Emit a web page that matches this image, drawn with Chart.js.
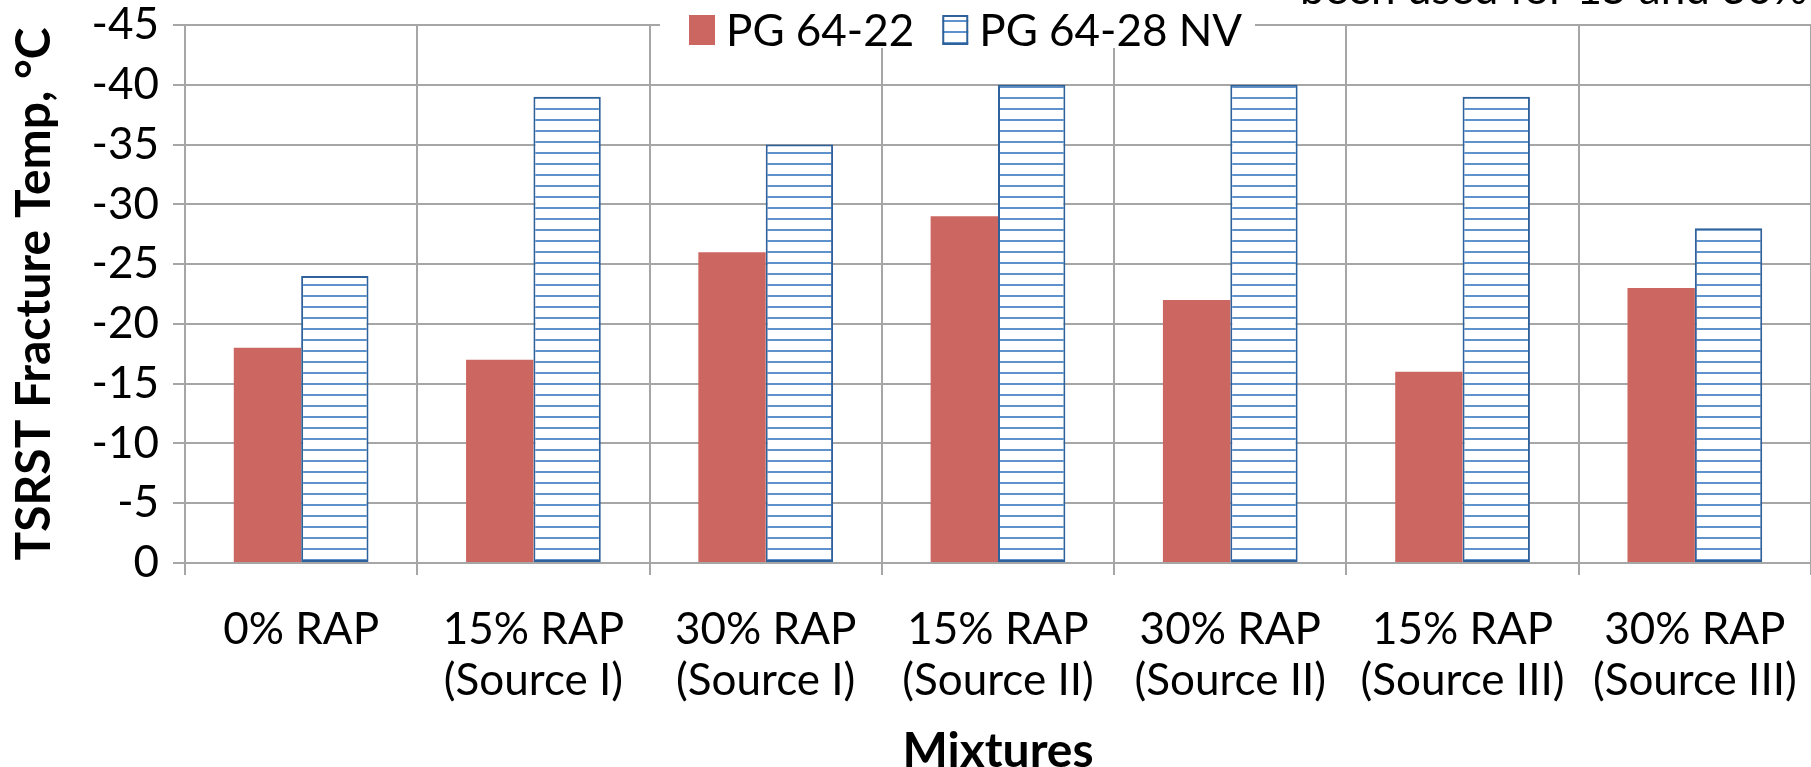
<!DOCTYPE html>
<html>
<head>
<meta charset="utf-8">
<script src="https://cdn.jsdelivr.net/npm/chart.js@4.4.1/dist/chart.umd.min.js"></script>
<style>
  html, body { margin: 0; padding: 0; background: #fff; }
  #wrap { width: 1811px; height: 767px; position: relative; }
</style>
</head>
<body>
<div id="wrap"><canvas id="chart"></canvas></div>
<script>
const categories = [
  ["0% RAP"],
  ["15% RAP", "(Source I)"],
  ["30% RAP", "(Source I)"],
  ["15% RAP", "(Source II)"],
  ["30% RAP", "(Source II)"],
  ["15% RAP", "(Source III)"],
  ["30% RAP", "(Source III)"]
];
const pg6422 = [-18, -17, -26, -29, -22, -16, -23];
const pg6428nv = [-24, -39, -35, -40, -40, -39, -28];
const seriesNames = ["PG 64-22", "PG 64-28 NV"];
const yMin = -45, yMax = 0, yStep = 5;
const noteText = "been used for 15 and 30% RAP";

const RED = "#cc6660";
const BLUE_EDGE = "#2f619b";
const BLUE_LINE = "#5e92cc";
const GRID = "#a6a6a6";
const FONT = "Lato, 'Open Sans', sans-serif";

// horizontal stripe pattern for the PG 64-28 NV bars
function stripes() {
  const c = document.createElement("canvas");
  c.width = 10; c.height = 11;
  const g = c.getContext("2d");
  g.fillStyle = "#ffffff";
  g.fillRect(0, 0, 10, 11);
  g.fillStyle = BLUE_LINE;
  g.fillRect(0, 9, 10, 2);
  return g.createPattern(c, "repeat");
}
const stripePattern = stripes();

// legend drawn on top of the plot, with its own white background
const topLegend = {
  id: "topLegend",
  afterDraw(chart) {
    const ctx = chart.ctx;
    ctx.save();
    ctx.font = "44px " + FONT;
    ctx.textBaseline = "middle";
    ctx.fillStyle = "#fff";
    ctx.fillRect(660, 4, 595, 44);
    let x = 689;
    const y = 30;
    chart.data.datasets.forEach((ds, i) => {
      ctx.fillStyle = ds.backgroundColor;
      ctx.fillRect(x, y - 15, 26, 30);
      if (ds.borderWidth) {
        ctx.strokeStyle = ds.borderColor;
        ctx.lineWidth = 2;
        ctx.strokeRect(x + 1, y - 14, 24, 28);
      }
      x += 26 + 11;
      ctx.fillStyle = "#000";
      ctx.fillText(ds.label, x, y + 2);
      x += ctx.measureText(ds.label).width + 28;
    });
    // partially cut note at the top right
    ctx.font = "44px " + FONT;
    ctx.textBaseline = "alphabetic";
    ctx.fillText(noteText, 1300, 4);
    ctx.restore();
  }
};

new Chart(document.getElementById("chart"), {
  type: "bar",
  data: {
    labels: categories,
    datasets: [
      {
        label: seriesNames[0],
        data: pg6422,
        backgroundColor: RED,
        borderWidth: 0,
        categoryPercentage: 0.58,
        barPercentage: 1
      },
      {
        label: seriesNames[1],
        data: pg6428nv,
        backgroundColor: stripePattern,
        borderColor: BLUE_EDGE,
        borderWidth: 2,
        borderSkipped: false,
        categoryPercentage: 0.58,
        barPercentage: 1
      }
    ]
  },
  plugins: [topLegend],
  options: {
    responsive: true,
    maintainAspectRatio: false,
    animation: false,
    layout: { padding: { top: 25, right: 0, left: 0, bottom: 0 } },
    plugins: {
      legend: { display: false },
      title: { display: false },
      tooltip: { enabled: false }
    },
    scales: {
      x: {
        grid: {
          offset: true,
          color: GRID,
          lineWidth: 2,
          drawTicks: true,
          tickLength: 12
        },
        border: { color: GRID, width: 2 },
        ticks: {
          color: "#000",
          padding: 29,
          maxRotation: 0,
          autoSkip: false,
          font: { family: FONT, size: 44, lineHeight: 1.16 }
        },
        title: {
          display: true,
          text: "Mixtures",
          color: "#000",
          font: { family: FONT, size: 48, weight: "bold", lineHeight: 0.62 },
          padding: { top: 1, bottom: 1 }
        },
        afterFit(scale) {
          scale.height = 204;
          scale.paddingLeft = 0;
          scale.paddingRight = 0;
        }
      },
      y: {
        min: yMin,
        max: yMax,
        reverse: true,
        grid: {
          color: GRID,
          lineWidth: 2,
          drawTicks: true,
          tickLength: 12
        },
        border: { color: GRID, width: 2 },
        ticks: {
          stepSize: yStep,
          color: "#000",
          padding: 14,
          font: { family: FONT, size: 44 }
        },
        title: {
          display: true,
          text: "TSRST Fracture Temp, °C",
          color: "#000",
          font: { family: FONT, size: 48, weight: "bold", lineHeight: 1 },
          padding: { top: 11, bottom: 11 }
        },
        afterFit(scale) {
          scale.width = 185;
          scale.paddingTop = 0;
          scale.paddingBottom = 0;
        }
      }
    }
  }
});
</script>
</body>
</html>
